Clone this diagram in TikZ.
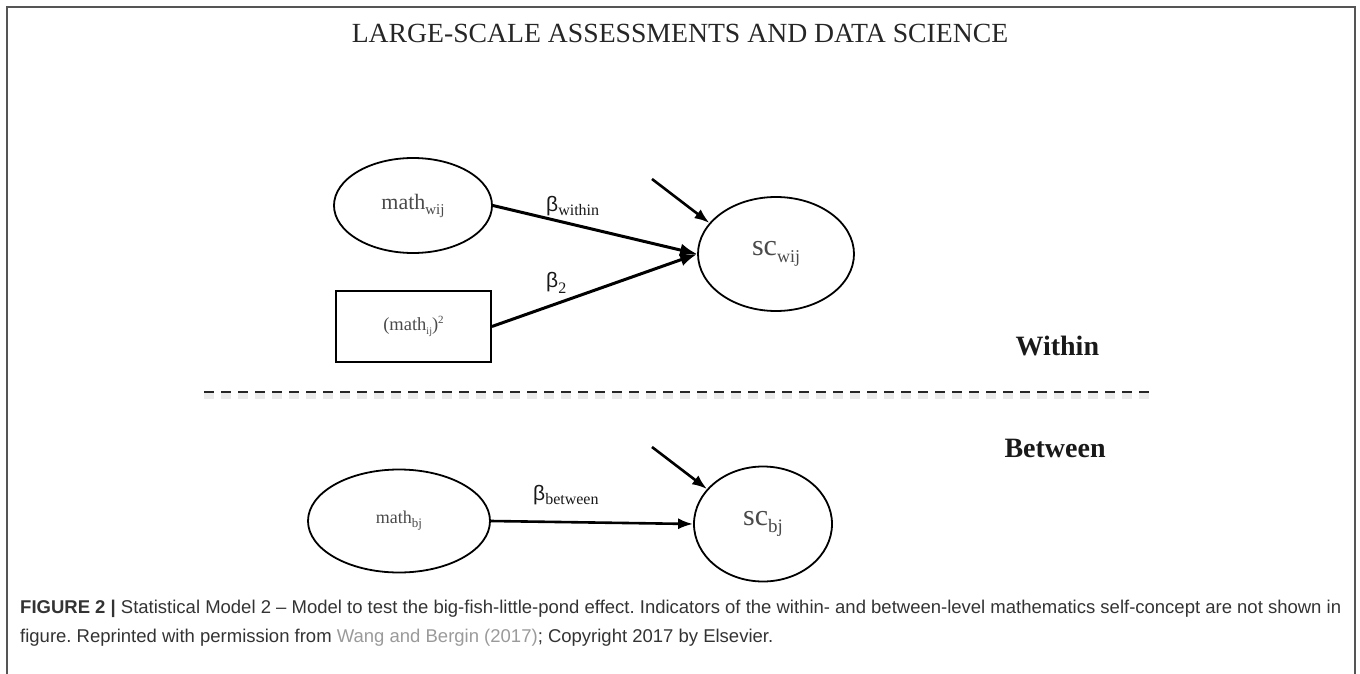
\documentclass[tikz,border=0pt]{standalone}
\usepackage{fontspec}
\setmainfont{Liberation Serif}
\setsansfont{Liberation Sans}
\usetikzlibrary{shapes.geometric,arrows.meta}
\frenchspacing
\newcommand\myfs[1]{\fontsize{#1}{#1}\selectfont}
\newcommand\sublab[2]{{\sffamily\myfs{21}β}\raisebox{-#2}{\myfs{16}#1}}
\definecolor{nodetext}{HTML}{4A4A4A}
\definecolor{captext}{HTML}{333333}
\definecolor{linkgray}{HTML}{9A9A9A}
\definecolor{framegray}{HTML}{555555}
\begin{document}
\begin{tikzpicture}[x=1pt,y=-1pt,
  latent/.style={draw=black,line width=1.8pt,ellipse,inner sep=0pt,text=nodetext},
  observed/.style={draw=black,line width=1.8pt,rectangle,inner sep=0pt,text=nodetext},
  path/.style={line width=3pt,-{Latex[length=17pt,width=13pt]}},
  resid/.style={line width=2.6pt,-{Latex[length=15pt,width=11pt]}},
  lvl/.style={font=\bfseries\myfs{28},text=black!90,anchor=base west},
  betalab/.style={anchor=base west,inner sep=0pt,text=black!90},
  frame/.style={draw=framegray,line width=1.5pt},
  dashline/.style={line width=2.2pt,dash pattern=on 10pt off 7pt,black!85},
  dashshadow/.style={line width=6pt,dash pattern=on 10pt off 7pt,black!8}]
\useasboundingbox (0,0) rectangle (1360,674);
\draw[frame] (7,674) -- (7,7) -- (1355,7) -- (1355,674);
\node[anchor=base,inner sep=0pt,font=\myfs{27.7},text=black!85] (title) at (680,43) {LARGE-SCALE ASSESSMENTS AND DATA SCIENCE};
% within level
\node[latent,minimum width=158pt,minimum height=95pt] (mw) at (413,205.5) {\myfs{22}math\raisebox{-5pt}{\myfs{15}wij}};
\node[observed,minimum width=155pt,minimum height=71pt] (msq) at (413.5,326.5) {\myfs{18.5}(math\raisebox{-4pt}{\myfs{10}ij})\raisebox{7pt}{\myfs{11}2}};
\node[latent,minimum width=156pt,minimum height=114pt] (scw) at (776,254) {\myfs{30}sc\raisebox{-7pt}{\myfs{18}wij}};
\coordinate (dw) at (652,179);
\draw[path] (mw.east) -- (scw.west);
\draw[path] (msq.east) -- (scw.west);
\draw[resid] (dw) -- (scw.155);
\node[betalab] (bw) at (546,211) {\sublab{within}{4pt}};
\node[betalab] (b2) at (546,287) {\sublab{2}{6pt}};
\node[lvl] (within) at (1012,355) {Within};
% divider
\coordinate (dl) at (204,392);
\coordinate (dr) at (1152,392);
\draw[dashshadow] ([yshift=-4pt]dl) -- ([yshift=-4pt]dr);
\draw[dashline] (dl) -- (dr);
\node[lvl] (between) at (1001,457) {Between};
% between level
\node[latent,minimum width=182pt,minimum height=103pt] (mb) at (399,521) {\myfs{18}math\raisebox{-4pt}{\myfs{13}bj}};
\node[latent,minimum width=138pt,minimum height=115pt] (scb) at (763,524) {\myfs{30}sc\raisebox{-7pt}{\myfs{19}bj}};
\coordinate (db) at (652,447);
\draw[resid] (mb.east) -- (scb.west);
\draw[resid] (db) -- (scb.148);
\node[betalab] (bb) at (533,500) {\sublab{between}{4pt}};
% caption
\node[anchor=base west,inner sep=0pt,font=\sffamily\myfs{18.5},text=captext] (cap1) at (20,613) {\textbf{FIGURE 2 |} Statistical Model 2 – Model to test the big-fish-little-pond effect. Indicators of the within- and between-level mathematics self-concept are not shown in};
\node[anchor=base west,inner sep=0pt,font=\sffamily\myfs{18.5},text=captext] (cap2) at (20,642) {figure. Reprinted with permission from \textcolor{linkgray}{Wang and Bergin (2017)}; Copyright 2017 by Elsevier.};
\end{tikzpicture}
\end{document}
